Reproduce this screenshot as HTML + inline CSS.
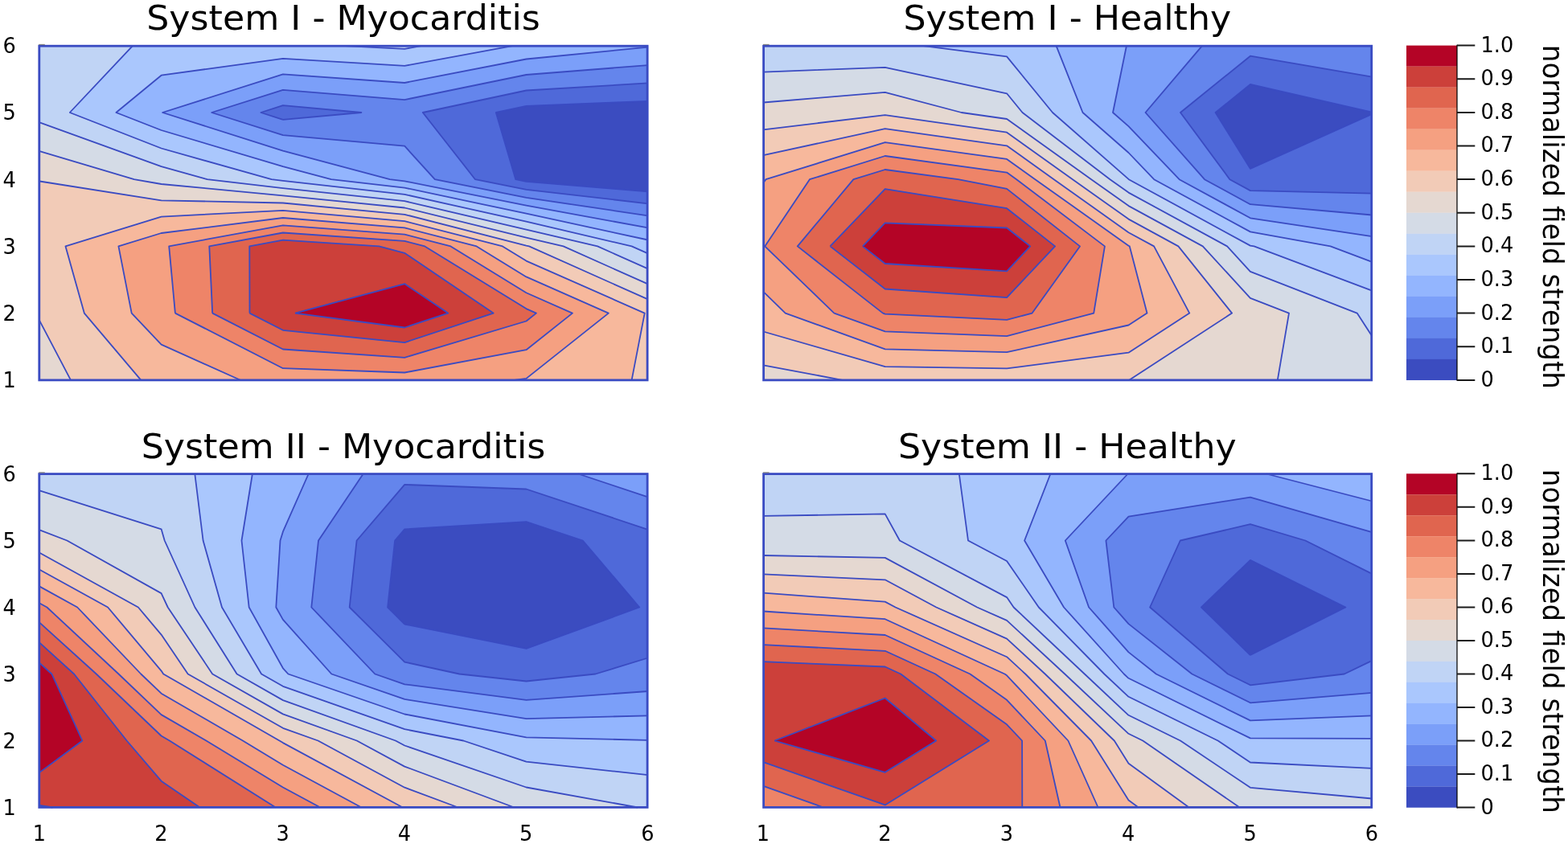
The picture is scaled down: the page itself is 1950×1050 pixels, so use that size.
<!DOCTYPE html>
<html lang="en"><head><meta charset="utf-8"><title>Normalized field strength contour maps</title>
<style>html,body{margin:0;padding:0;background:#fff}body{width:1950px;height:1050px;overflow:hidden}</style></head>
<body>
<svg width="1950" height="1050" viewBox="0 0 1950 1050" style="display:block">
<defs><filter id="soft" x="0" y="0" width="100%" height="100%" filterUnits="userSpaceOnUse" color-interpolation-filters="sRGB"><feGaussianBlur stdDeviation="0.45"/></filter></defs>
<rect width="1950" height="1050" fill="#fff"/>
<g filter="url(#soft)">
<rect width="1950" height="1050" fill="#fff"/>
<g>
<rect x="49.3" y="56.8" width="756.5" height="416" fill="#3b4cc0"/>
<path d="M641.3 223.2L654.5 225.8L805.8 238.3L805.8 223.2L805.8 140L805.8 125.8L654.5 131.9L616.8 140Z" fill="#3b4cc0" stroke="#3b4cc0" stroke-width="0.6" fill-rule="evenodd"/>
<path d="M591 223.2L654.5 235.8L805.8 253.3L805.8 238.3L654.5 225.8L641.3 223.2L616.8 140L654.5 131.9L805.8 125.8L805.8 103.4L654.5 112.5L525.8 140ZM324.4 140L351.9 148.8L449.4 140L351.9 131.2Z" fill="#4f69d9" stroke="#4f69d9" stroke-width="0.6" fill-rule="evenodd"/>
<path d="M540.8 223.2L654.5 245.8L805.8 268.4L805.8 253.3L654.5 235.8L591 223.2L525.8 140L654.5 112.5L805.8 103.4L805.8 81.1L654.5 93L503.2 124.1L351.9 111.8L263.2 140L351.9 168.2L503.2 181.7ZM351.9 148.8L324.4 140L351.9 131.2L449.4 140Z" fill="#6485ec" stroke="#6485ec" stroke-width="0.6" fill-rule="evenodd"/>
<path d="M484.8 223.2L503.2 225.3L654.5 255.7L805.8 283.4L805.8 268.4L654.5 245.8L540.8 223.2L503.2 181.7L351.9 168.2L263.2 140L351.9 111.8L503.2 124.1L654.5 93L805.8 81.1L805.8 58.7L654.5 73.5L503.2 103L351.9 92.3L202.1 140L351.9 187.7Z" fill="#7b9ff9" stroke="#7b9ff9" stroke-width="0.6" fill-rule="evenodd"/>
<path d="M411.9 223.2L503.2 233.6L654.5 265.7L805.8 298.5L805.8 283.4L654.5 255.7L503.2 225.3L484.8 223.2L351.9 187.7L202.1 140L351.9 92.3L503.2 103L654.5 73.5L805.8 58.7L805.8 56.8L654.5 56.8L638.5 56.8L503.2 81.9L351.9 72.8L200.6 93.7L144.4 140L200.6 162L351.9 207.2Z" fill="#93b5fe" stroke="#93b5fe" stroke-width="0.6" fill-rule="evenodd"/>
<path d="M785.6 306.4L805.8 315.4L805.8 306.4L805.8 298.5L654.5 265.7L503.2 233.6L411.9 223.2L351.9 207.2L200.6 162L144.4 140L200.6 93.7L351.9 72.8L503.2 81.9L638.5 56.8L525 56.8L503.2 60.9L424.3 56.8L351.9 56.8L200.6 56.8L165.1 56.8L86.8 140L200.6 184.5L337.7 223.2L351.9 224.8L503.2 241.9L654.5 275.7Z" fill="#aac7fd" stroke="#aac7fd" stroke-width="0.6" fill-rule="evenodd"/>
<path d="M743.1 306.4L805.8 334.4L805.8 315.4L785.6 306.4L654.5 275.7L503.2 241.9L351.9 224.8L337.7 223.2L200.6 184.5L86.8 140L165.1 56.8L49.3 56.8L49.3 140L49.3 152.4L200.6 207.1L257.8 223.2L351.9 234.1L503.2 250.2L654.5 285.6ZM424.3 56.8L503.2 60.9L525 56.8L503.2 56.8Z" fill="#c0d4f5" stroke="#c0d4f5" stroke-width="0.6" fill-rule="evenodd"/>
<path d="M700.6 306.4L805.8 353.4L805.8 334.4L743.1 306.4L654.5 285.6L503.2 250.2L351.9 234.1L257.8 223.2L200.6 207.1L49.3 152.4L49.3 188.1L166.8 223.2L200.6 229L351.9 243.3L503.2 258.5L654.5 295.6Z" fill="#d4dbe6" stroke="#d4dbe6" stroke-width="0.6" fill-rule="evenodd"/>
<path d="M49.3 472.8L88 472.8L49.3 399.2ZM658 306.4L805.8 372.4L805.8 353.4L700.6 306.4L654.5 295.6L503.2 258.5L351.9 243.3L200.6 229L166.8 223.2L49.3 188.1L49.3 223.2L49.3 225.5L200.6 249.3L351.9 252.5L503.2 266.8L654.5 305.6Z" fill="#e5d8d1" stroke="#e5d8d1" stroke-width="0.6" fill-rule="evenodd"/>
<path d="M88 472.8L175.3 472.8L104.8 389.6L81.5 306.4L200.6 269.6L351.9 261.8L503.2 275.1L625 306.4L654.5 324.6L801.7 389.6L785.6 472.8L805.8 472.8L805.8 389.6L805.8 372.4L658 306.4L654.5 305.6L503.2 266.8L351.9 252.5L200.6 249.3L49.3 225.5L49.3 306.4L49.3 389.6L49.3 399.2Z" fill="#f2cbb7" stroke="#f2cbb7" stroke-width="0.6" fill-rule="evenodd"/>
<path d="M175.3 472.8L200.6 472.8L298.8 472.8L200.6 428.6L163.7 389.6L147.4 306.4L200.6 290L351.9 271L503.2 283.4L592.7 306.4L654.5 344.4L756.8 389.6L654.5 470.9L639.8 472.8L654.5 472.8L785.6 472.8L801.7 389.6L654.5 324.6L625 306.4L503.2 275.1L351.9 261.8L200.6 269.6L81.5 306.4L104.8 389.6Z" fill="#f7b89c" stroke="#f7b89c" stroke-width="0.6" fill-rule="evenodd"/>
<path d="M163.7 389.6L200.6 428.6L298.8 472.8L351.9 472.8L503.2 472.8L639.8 472.8L654.5 470.9L756.8 389.6L654.5 344.4L592.7 306.4L503.2 283.4L351.9 271L200.6 290L147.4 306.4ZM351.9 458.2L217.9 389.6L210.2 306.4L351.9 280.3L503.2 291.6L560.5 306.4L654.5 364.3L711.9 389.6L654.5 435.2L503.2 463.5Z" fill="#f5a081" stroke="#f5a081" stroke-width="0.6" fill-rule="evenodd"/>
<path d="M217.9 389.6L351.9 458.2L503.2 463.5L654.5 435.2L711.9 389.6L654.5 364.3L560.5 306.4L503.2 291.6L351.9 280.3L210.2 306.4ZM351.9 434.5L264.2 389.6L260.3 306.4L351.9 289.5L503.2 299.9L528.3 306.4L654.5 384.1L666.9 389.6L654.5 399.5L503.2 444.8Z" fill="#ee8468" stroke="#ee8468" stroke-width="0.6" fill-rule="evenodd"/>
<path d="M264.2 389.6L351.9 434.5L503.2 444.8L654.5 399.5L666.9 389.6L654.5 384.1L528.3 306.4L503.2 299.9L351.9 289.5L260.3 306.4ZM351.9 410.8L310.5 389.6L310.3 306.4L351.9 298.7L471.4 306.4L503.2 314.8L613.6 389.6L503.2 426.1Z" fill="#e0654f" stroke="#e0654f" stroke-width="0.6" fill-rule="evenodd"/>
<path d="M310.5 389.6L351.9 410.8L503.2 426.1L613.6 389.6L503.2 314.8L471.4 306.4L351.9 298.7L310.3 306.4ZM503.2 407.5L367 389.6L503.2 353.1L557.2 389.6Z" fill="#cc403a" stroke="#cc403a" stroke-width="0.6" fill-rule="evenodd"/>
<path d="M367 389.6L503.2 407.5L557.2 389.6L503.2 353.1Z" fill="#b40426" stroke="#b40426" stroke-width="0.6" fill-rule="evenodd"/>
<path d="M805.8 238.3L654.5 225.8L641.3 223.2L616.8 140L654.5 131.9L805.8 125.8M805.8 253.3L654.5 235.8L591 223.2L525.8 140L654.5 112.5L805.8 103.4M351.9 148.8L324.4 140L351.9 131.2L449.4 140L351.9 148.8M805.8 268.4L654.5 245.8L540.8 223.2L503.2 181.7L351.9 168.2L263.2 140L351.9 111.8L503.2 124.1L654.5 93L805.8 81.1M805.8 283.4L654.5 255.7L503.2 225.3L484.8 223.2L351.9 187.7L202.1 140L351.9 92.3L503.2 103L654.5 73.5L805.8 58.7M805.8 298.5L654.5 265.7L503.2 233.6L411.9 223.2L351.9 207.2L200.6 162L144.4 140L200.6 93.7L351.9 72.8L503.2 81.9L638.5 56.8M805.8 315.4L785.6 306.4L654.5 275.7L503.2 241.9L351.9 224.8L337.7 223.2L200.6 184.5L86.8 140L165.1 56.8M424.3 56.8L503.2 60.9L525 56.8M805.8 334.4L743.1 306.4L654.5 285.6L503.2 250.2L351.9 234.1L257.8 223.2L200.6 207.1L49.3 152.4M805.8 353.4L700.6 306.4L654.5 295.6L503.2 258.5L351.9 243.3L200.6 229L166.8 223.2L49.3 188.1M49.3 399.2L88 472.8M805.8 372.4L658 306.4L654.5 305.6L503.2 266.8L351.9 252.5L200.6 249.3L49.3 225.5M785.6 472.8L801.7 389.6L654.5 324.6L625 306.4L503.2 275.1L351.9 261.8L200.6 269.6L81.5 306.4L104.8 389.6L175.3 472.8M639.8 472.8L654.5 470.9L756.8 389.6L654.5 344.4L592.7 306.4L503.2 283.4L351.9 271L200.6 290L147.4 306.4L163.7 389.6L200.6 428.6L298.8 472.8M217.9 389.6L351.9 458.2L503.2 463.5L654.5 435.2L711.9 389.6L654.5 364.3L560.5 306.4L503.2 291.6L351.9 280.3L210.2 306.4L217.9 389.6M264.2 389.6L351.9 434.5L503.2 444.8L654.5 399.5L666.9 389.6L654.5 384.1L528.3 306.4L503.2 299.9L351.9 289.5L260.3 306.4L264.2 389.6M310.5 389.6L351.9 410.8L503.2 426.1L613.6 389.6L503.2 314.8L471.4 306.4L351.9 298.7L310.3 306.4L310.5 389.6M367 389.6L503.2 407.5L557.2 389.6L503.2 353.1L367 389.6" fill="none" stroke="#3a4bc2" stroke-width="1.8" stroke-linejoin="round"/>
<rect x="48.8" y="57.2" width="756.3" height="415.7" fill="none" stroke="#3a4bc2" stroke-width="2.8"/>
<path d="M48.2 55.5h7.6" stroke="#6f6f6a" stroke-width="1.3" fill="none" stroke-opacity="0.8"/>
</g>
<text transform="translate(427.0 36.9) scale(1.022 1)" font-size="43.3" text-anchor="middle" font-family="'DejaVu Sans','Liberation Sans',sans-serif" fill="#000">System I - Myocarditis</text>
<text transform="translate(11.6 482.1) scale(0.985 1)" font-size="26.0" text-anchor="middle" font-family="'DejaVu Sans','Liberation Sans',sans-serif" fill="#000">1</text>
<text transform="translate(11.6 398.9) scale(0.985 1)" font-size="26.0" text-anchor="middle" font-family="'DejaVu Sans','Liberation Sans',sans-serif" fill="#000">2</text>
<text transform="translate(11.6 315.7) scale(0.985 1)" font-size="26.0" text-anchor="middle" font-family="'DejaVu Sans','Liberation Sans',sans-serif" fill="#000">3</text>
<text transform="translate(11.6 232.5) scale(0.985 1)" font-size="26.0" text-anchor="middle" font-family="'DejaVu Sans','Liberation Sans',sans-serif" fill="#000">4</text>
<text transform="translate(11.6 149.3) scale(0.985 1)" font-size="26.0" text-anchor="middle" font-family="'DejaVu Sans','Liberation Sans',sans-serif" fill="#000">5</text>
<text transform="translate(11.6 66.1) scale(0.985 1)" font-size="26.0" text-anchor="middle" font-family="'DejaVu Sans','Liberation Sans',sans-serif" fill="#000">6</text>
<g>
<rect x="949.3" y="56.8" width="757" height="416" fill="#3b4cc0"/>
<path d="M1511.6 140L1554.9 209.9L1706.3 141.9L1706.3 140L1706.3 139.6L1554.9 105Z" fill="#3b4cc0" stroke="#3b4cc0" stroke-width="0.6" fill-rule="evenodd"/>
<path d="M1529.4 223.2L1554.9 237.1L1706.3 240.7L1706.3 223.2L1706.3 141.9L1554.9 209.9L1511.6 140L1554.9 105L1706.3 139.6L1706.3 95.6L1554.9 69.7L1468 140Z" fill="#4f69d9" stroke="#4f69d9" stroke-width="0.6" fill-rule="evenodd"/>
<path d="M1498 223.2L1554.9 254.2L1706.3 267.5L1706.3 240.7L1554.9 237.1L1529.4 223.2L1468 140L1554.9 69.7L1706.3 95.6L1706.3 56.8L1554.9 56.8L1495.1 56.8L1424.5 140Z" fill="#6485ec" stroke="#6485ec" stroke-width="0.6" fill-rule="evenodd"/>
<path d="M1466.6 223.2L1554.9 271.3L1706.3 294.2L1706.3 267.5L1554.9 254.2L1498 223.2L1424.5 140L1495.1 56.8L1403.5 56.8L1401 56.8L1384 140L1403.5 157.1Z" fill="#7b9ff9" stroke="#7b9ff9" stroke-width="0.6" fill-rule="evenodd"/>
<path d="M1654.6 306.4L1706.3 325.9L1706.3 306.4L1706.3 294.2L1554.9 271.3L1466.6 223.2L1403.5 157.1L1384 140L1401 56.8L1313.5 56.8L1346.5 140L1403.5 190L1435.2 223.2L1554.9 288.4Z" fill="#93b5fe" stroke="#93b5fe" stroke-width="0.6" fill-rule="evenodd"/>
<path d="M1559.6 306.4L1706.3 361.7L1706.3 325.9L1654.6 306.4L1554.9 288.4L1435.2 223.2L1403.5 190L1346.5 140L1313.5 56.8L1252.1 56.8L1146.6 56.8L1252.1 70.4L1309 140L1403.5 222.9L1403.8 223.2L1554.9 305.6Z" fill="#aac7fd" stroke="#aac7fd" stroke-width="0.6" fill-rule="evenodd"/>
<path d="M1687.7 389.6L1706.3 418.2L1706.3 389.6L1706.3 361.7L1559.6 306.4L1554.9 305.6L1403.8 223.2L1403.5 222.9L1309 140L1252.1 70.4L1146.6 56.8L1100.7 56.8L949.3 56.8L949.3 89.6L1100.7 83.8L1252.1 116.3L1271.5 140L1380.5 223.2L1403.5 239.6L1526.1 306.4L1554.9 337.8Z" fill="#c0d4f5" stroke="#c0d4f5" stroke-width="0.6" fill-rule="evenodd"/>
<path d="M1588.8 472.8L1706.3 472.8L1706.3 418.2L1687.7 389.6L1554.9 337.8L1526.1 306.4L1403.5 239.6L1380.5 223.2L1271.5 140L1252.1 116.3L1100.7 83.8L949.3 89.6L949.3 127.5L1100.7 114.8L1195.7 140L1252.1 148L1357.2 223.2L1403.5 256.1L1495.8 306.4L1554.9 370.8L1603 389.6Z" fill="#d4dbe6" stroke="#d4dbe6" stroke-width="0.6" fill-rule="evenodd"/>
<path d="M949.3 472.8L1047.4 472.8L949.3 454.4ZM1404.4 472.8L1554.9 472.8L1588.8 472.8L1603 389.6L1554.9 370.8L1495.8 306.4L1403.5 256.1L1357.2 223.2L1252.1 148L1195.7 140L1100.7 114.8L949.3 127.5L949.3 140L949.3 161.3L1100.7 143.1L1252.1 164.7L1334 223.2L1403.5 272.6L1465.4 306.4L1532.1 389.6Z" fill="#e5d8d1" stroke="#e5d8d1" stroke-width="0.6" fill-rule="evenodd"/>
<path d="M1047.4 472.8L1100.7 472.8L1252.1 472.8L1403.5 472.8L1404.4 472.8L1532.1 389.6L1465.4 306.4L1403.5 272.6L1334 223.2L1252.1 164.7L1100.7 143.1L949.3 161.3L949.3 193.2L1100.7 160.1L1252.1 181.3L1310.7 223.2L1403.5 289.2L1435.1 306.4L1479.3 389.6L1403.5 438.7L1252.1 458.4L1100.7 456.2L949.3 412.5L949.3 454.4Z" fill="#f2cbb7" stroke="#f2cbb7" stroke-width="0.6" fill-rule="evenodd"/>
<path d="M949.3 389.6L949.3 412.5L1100.7 456.2L1252.1 458.4L1403.5 438.7L1479.3 389.6L1435.1 306.4L1403.5 289.2L1310.7 223.2L1252.1 181.3L1100.7 160.1L949.3 193.2L949.3 223.2L949.3 227.8L952.4 223.2L1100.7 177.1L1252.1 197.9L1287.4 223.2L1403.5 305.7L1404.8 306.4L1426.5 389.6L1403.5 404.5L1252.1 438.2L1100.7 434.3L976.7 389.6L949.3 362.8Z" fill="#f7b89c" stroke="#f7b89c" stroke-width="0.6" fill-rule="evenodd"/>
<path d="M976.7 389.6L1100.7 434.3L1252.1 438.2L1403.5 404.5L1426.5 389.6L1404.8 306.4L1403.5 305.7L1287.4 223.2L1252.1 197.9L1100.7 177.1L952.4 223.2L949.3 227.8L949.3 306.4L949.3 362.8ZM1100.7 412.4L1037.4 389.6L951.2 306.4L1006.9 223.2L1100.7 194L1252.1 214.6L1264.2 223.2L1373.9 306.4L1360.2 389.6L1252.1 418.1Z" fill="#f5a081" stroke="#f5a081" stroke-width="0.6" fill-rule="evenodd"/>
<path d="M1037.4 389.6L1100.7 412.4L1252.1 418.1L1360.2 389.6L1373.9 306.4L1264.2 223.2L1252.1 214.6L1100.7 194L1006.9 223.2L951.2 306.4ZM1100.7 390.6L1098 389.6L991.8 306.4L1061.4 223.2L1100.7 211L1191.5 223.2L1252.1 234.9L1343 306.4L1283.6 389.6L1252.1 397.9Z" fill="#ee8468" stroke="#ee8468" stroke-width="0.6" fill-rule="evenodd"/>
<path d="M1098 389.6L1100.7 390.6L1252.1 397.9L1283.6 389.6L1343 306.4L1252.1 234.9L1191.5 223.2L1100.7 211L1061.4 223.2L991.8 306.4ZM1100.7 359.5L1032.4 306.4L1100.7 235.1L1252.1 259.2L1312.1 306.4L1252.1 370.2Z" fill="#e0654f" stroke="#e0654f" stroke-width="0.6" fill-rule="evenodd"/>
<path d="M1032.4 306.4L1100.7 359.5L1252.1 370.2L1312.1 306.4L1252.1 259.2L1100.7 235.1ZM1100.7 328L1072.9 306.4L1100.7 277.4L1252.1 283.5L1281.2 306.4L1252.1 337.3Z" fill="#cc403a" stroke="#cc403a" stroke-width="0.6" fill-rule="evenodd"/>
<path d="M1072.9 306.4L1100.7 328L1252.1 337.3L1281.2 306.4L1252.1 283.5L1100.7 277.4Z" fill="#b40426" stroke="#b40426" stroke-width="0.6" fill-rule="evenodd"/>
<path d="M1706.3 141.9L1554.9 209.9L1511.6 140L1554.9 105L1706.3 139.6M1706.3 240.7L1554.9 237.1L1529.4 223.2L1468 140L1554.9 69.7L1706.3 95.6M1706.3 267.5L1554.9 254.2L1498 223.2L1424.5 140L1495.1 56.8M1706.3 294.2L1554.9 271.3L1466.6 223.2L1403.5 157.1L1384 140L1401 56.8M1706.3 325.9L1654.6 306.4L1554.9 288.4L1435.2 223.2L1403.5 190L1346.5 140L1313.5 56.8M1706.3 361.7L1559.6 306.4L1554.9 305.6L1403.8 223.2L1403.5 222.9L1309 140L1252.1 70.4L1146.6 56.8M1706.3 418.2L1687.7 389.6L1554.9 337.8L1526.1 306.4L1403.5 239.6L1380.5 223.2L1271.5 140L1252.1 116.3L1100.7 83.8L949.3 89.6M1588.8 472.8L1603 389.6L1554.9 370.8L1495.8 306.4L1403.5 256.1L1357.2 223.2L1252.1 148L1195.7 140L1100.7 114.8L949.3 127.5M949.3 454.4L1047.4 472.8M1404.4 472.8L1532.1 389.6L1465.4 306.4L1403.5 272.6L1334 223.2L1252.1 164.7L1100.7 143.1L949.3 161.3M949.3 412.5L1100.7 456.2L1252.1 458.4L1403.5 438.7L1479.3 389.6L1435.1 306.4L1403.5 289.2L1310.7 223.2L1252.1 181.3L1100.7 160.1L949.3 193.2M949.3 362.8L976.7 389.6L1100.7 434.3L1252.1 438.2L1403.5 404.5L1426.5 389.6L1404.8 306.4L1403.5 305.7L1287.4 223.2L1252.1 197.9L1100.7 177.1L952.4 223.2L949.3 227.8M1037.4 389.6L1100.7 412.4L1252.1 418.1L1360.2 389.6L1373.9 306.4L1264.2 223.2L1252.1 214.6L1100.7 194L1006.9 223.2L951.2 306.4L1037.4 389.6M1098 389.6L1100.7 390.6L1252.1 397.9L1283.6 389.6L1343 306.4L1252.1 234.9L1191.5 223.2L1100.7 211L1061.4 223.2L991.8 306.4L1098 389.6M1032.4 306.4L1100.7 359.5L1252.1 370.2L1312.1 306.4L1252.1 259.2L1100.7 235.1L1032.4 306.4M1072.9 306.4L1100.7 328L1252.1 337.3L1281.2 306.4L1252.1 283.5L1100.7 277.4L1072.9 306.4" fill="none" stroke="#3a4bc2" stroke-width="1.8" stroke-linejoin="round"/>
<rect x="949.6" y="57.2" width="756.1" height="415.7" fill="none" stroke="#3a4bc2" stroke-width="2.8"/>
<path d="M949 55.5h7.6" stroke="#6f6f6a" stroke-width="1.3" fill="none" stroke-opacity="0.8"/>
</g>
<text transform="translate(1327.3 36.9) scale(1.022 1)" font-size="43.3" text-anchor="middle" font-family="'DejaVu Sans','Liberation Sans',sans-serif" fill="#000">System I - Healthy</text>
<g>
<rect x="49.3" y="589.5" width="756.5" height="415" fill="#3b4cc0"/>
<path d="M482.1 755.5L503.2 776.5L654.5 806.9L795.2 755.5L724.8 672.5L654.5 649.2L503.2 658.4L491.1 672.5Z" fill="#3b4cc0" stroke="#3b4cc0" stroke-width="0.6" fill-rule="evenodd"/>
<path d="M571.3 838.5L654.5 847.5L740.5 838.5L805.8 818.5L805.8 755.5L805.8 672.5L805.8 658.8L654.5 608.5L503.2 602.9L443.6 672.5L434.7 755.5L503.2 823.6ZM503.2 776.5L482.1 755.5L491.1 672.5L503.2 658.4L654.5 649.2L724.8 672.5L795.2 755.5L654.5 806.9Z" fill="#4f69d9" stroke="#4f69d9" stroke-width="0.6" fill-rule="evenodd"/>
<path d="M466.3 838.5L503.2 851.3L654.5 870.8L805.8 860L805.8 838.5L805.8 818.5L740.5 838.5L654.5 847.5L571.3 838.5L503.2 823.6L434.7 755.5L443.6 672.5L503.2 602.9L654.5 608.5L805.8 658.8L805.8 618.4L719.1 589.5L654.5 589.5L503.2 589.5L451.7 589.5L396 672.5L387.3 755.5Z" fill="#6485ec" stroke="#6485ec" stroke-width="0.6" fill-rule="evenodd"/>
<path d="M412.3 838.5L503.2 869.9L654.5 894.1L805.8 890.4L805.8 860L654.5 870.8L503.2 851.3L466.3 838.5L387.3 755.5L396 672.5L451.7 589.5L383.7 589.5L351.9 661.4L348.5 672.5L343.3 755.5L351.9 770.9ZM719.1 589.5L805.8 618.4L805.8 589.5Z" fill="#7b9ff9" stroke="#7b9ff9" stroke-width="0.6" fill-rule="evenodd"/>
<path d="M358.4 838.5L503.2 888.5L654.5 917.4L805.8 920.8L805.8 890.4L654.5 894.1L503.2 869.9L412.3 838.5L351.9 770.9L343.3 755.5L348.5 672.5L351.9 661.4L383.7 589.5L351.9 589.5L313.9 589.5L300.5 672.5L309.7 755.5L351.9 831.3Z" fill="#93b5fe" stroke="#93b5fe" stroke-width="0.6" fill-rule="evenodd"/>
<path d="M576.3 921.5L654.5 947.7L805.8 964.1L805.8 921.5L805.8 920.8L654.5 917.4L503.2 888.5L358.4 838.5L351.9 831.3L309.7 755.5L300.5 672.5L313.9 589.5L242.3 589.5L252.6 672.5L276 755.5L325.1 838.5L351.9 853.8L503.2 907.2Z" fill="#aac7fd" stroke="#aac7fd" stroke-width="0.6" fill-rule="evenodd"/>
<path d="M492 921.5L503.2 927.5L654.5 979.5L793.1 1004.5L805.8 1004.5L805.8 964.1L654.5 947.7L576.3 921.5L503.2 907.2L351.9 853.8L325.1 838.5L276 755.5L252.6 672.5L242.3 589.5L200.6 589.5L49.3 589.5L49.3 610.3L200.6 658.3L204.7 672.5L242.4 755.5L294.6 838.5L351.9 871.1Z" fill="#c0d4f5" stroke="#c0d4f5" stroke-width="0.6" fill-rule="evenodd"/>
<path d="M443.8 921.5L503.2 953.6L639.5 1004.5L654.5 1004.5L793.1 1004.5L654.5 979.5L503.2 927.5L492 921.5L351.9 871.1L294.6 838.5L242.4 755.5L204.7 672.5L200.6 658.3L49.3 610.3L49.3 659.4L83.4 672.5L200.6 738.1L208.7 755.5L264.2 838.5L351.9 888.4Z" fill="#d4dbe6" stroke="#d4dbe6" stroke-width="0.6" fill-rule="evenodd"/>
<path d="M395.6 921.5L503.2 979.7L569.7 1004.5L639.5 1004.5L503.2 953.6L443.8 921.5L351.9 888.4L264.2 838.5L208.7 755.5L200.6 738.1L83.4 672.5L49.3 659.4L49.3 672.5L49.3 687.8L171.9 755.5L200.6 789.6L233.7 838.5L351.9 905.8Z" fill="#e5d8d1" stroke="#e5d8d1" stroke-width="0.6" fill-rule="evenodd"/>
<path d="M347.6 921.5L351.9 924.1L500.8 1004.5L503.2 1004.5L569.7 1004.5L503.2 979.7L395.6 921.5L351.9 905.8L233.7 838.5L200.6 789.6L171.9 755.5L49.3 687.8L49.3 708.7L134.1 755.5L200.6 834.6L203.2 838.5Z" fill="#f2cbb7" stroke="#f2cbb7" stroke-width="0.6" fill-rule="evenodd"/>
<path d="M302 921.5L351.9 951.8L449.5 1004.5L500.8 1004.5L351.9 924.1L347.6 921.5L203.2 838.5L200.6 834.6L134.1 755.5L49.3 708.7L49.3 729.6L96.2 755.5L175.3 838.5L200.6 862.7Z" fill="#f7b89c" stroke="#f7b89c" stroke-width="0.6" fill-rule="evenodd"/>
<path d="M256.5 921.5L351.9 979.5L398.3 1004.5L449.5 1004.5L351.9 951.8L302 921.5L200.6 862.7L175.3 838.5L96.2 755.5L49.3 729.6L49.3 750.5L58.4 755.5L147.5 838.5L200.6 889.1Z" fill="#f5a081" stroke="#f5a081" stroke-width="0.6" fill-rule="evenodd"/>
<path d="M342.8 1004.5L351.9 1004.5L398.3 1004.5L351.9 979.5L256.5 921.5L200.6 889.1L147.5 838.5L58.4 755.5L49.3 750.5L49.3 755.5L49.3 774.6L119.8 838.5L200.6 915.5L210.9 921.5Z" fill="#ee8468" stroke="#ee8468" stroke-width="0.6" fill-rule="evenodd"/>
<path d="M49.3 1004.5L65.5 1004.5L49.3 1002ZM157.7 921.5L200.6 971.7L248.5 1004.5L342.8 1004.5L210.9 921.5L200.6 915.5L119.8 838.5L49.3 774.6L49.3 799.7L92.1 838.5Z" fill="#e0654f" stroke="#e0654f" stroke-width="0.6" fill-rule="evenodd"/>
<path d="M65.5 1004.5L200.6 1004.5L248.5 1004.5L200.6 971.7L157.7 921.5L92.1 838.5L49.3 799.7L49.3 824.8L64.4 838.5L102.4 921.5L49.3 960.9L49.3 1002Z" fill="#cc403a" stroke="#cc403a" stroke-width="0.6" fill-rule="evenodd"/>
<path d="M49.3 921.5L49.3 960.9L102.4 921.5L64.4 838.5L49.3 824.8L49.3 838.5Z" fill="#b40426" stroke="#b40426" stroke-width="0.6" fill-rule="evenodd"/>
<path d="M503.2 776.5L482.1 755.5L491.1 672.5L503.2 658.4L654.5 649.2L724.8 672.5L795.2 755.5L654.5 806.9L503.2 776.5M805.8 818.5L740.5 838.5L654.5 847.5L571.3 838.5L503.2 823.6L434.7 755.5L443.6 672.5L503.2 602.9L654.5 608.5L805.8 658.8M805.8 860L654.5 870.8L503.2 851.3L466.3 838.5L387.3 755.5L396 672.5L451.7 589.5M719.1 589.5L805.8 618.4M805.8 890.4L654.5 894.1L503.2 869.9L412.3 838.5L351.9 770.9L343.3 755.5L348.5 672.5L351.9 661.4L383.7 589.5M805.8 920.8L654.5 917.4L503.2 888.5L358.4 838.5L351.9 831.3L309.7 755.5L300.5 672.5L313.9 589.5M805.8 964.1L654.5 947.7L576.3 921.5L503.2 907.2L351.9 853.8L325.1 838.5L276 755.5L252.6 672.5L242.3 589.5M793.1 1004.5L654.5 979.5L503.2 927.5L492 921.5L351.9 871.1L294.6 838.5L242.4 755.5L204.7 672.5L200.6 658.3L49.3 610.3M639.5 1004.5L503.2 953.6L443.8 921.5L351.9 888.4L264.2 838.5L208.7 755.5L200.6 738.1L83.4 672.5L49.3 659.4M569.7 1004.5L503.2 979.7L395.6 921.5L351.9 905.8L233.7 838.5L200.6 789.6L171.9 755.5L49.3 687.8M500.8 1004.5L351.9 924.1L347.6 921.5L203.2 838.5L200.6 834.6L134.1 755.5L49.3 708.7M449.5 1004.5L351.9 951.8L302 921.5L200.6 862.7L175.3 838.5L96.2 755.5L49.3 729.6M398.3 1004.5L351.9 979.5L256.5 921.5L200.6 889.1L147.5 838.5L58.4 755.5L49.3 750.5M342.8 1004.5L210.9 921.5L200.6 915.5L119.8 838.5L49.3 774.6M49.3 1002L65.5 1004.5M248.5 1004.5L200.6 971.7L157.7 921.5L92.1 838.5L49.3 799.7M49.3 960.9L102.4 921.5L64.4 838.5L49.3 824.8" fill="none" stroke="#3a4bc2" stroke-width="1.8" stroke-linejoin="round"/>
<rect x="48.8" y="589.6" width="756.3" height="414.8" fill="none" stroke="#3a4bc2" stroke-width="2.8"/>
<path d="M48.2 587.9h7.6" stroke="#6f6f6a" stroke-width="1.3" fill="none" stroke-opacity="0.8"/>
</g>
<text transform="translate(427.0 569.6) scale(1.022 1)" font-size="43.3" text-anchor="middle" font-family="'DejaVu Sans','Liberation Sans',sans-serif" fill="#000">System II - Myocarditis</text>
<text transform="translate(11.6 1013.8) scale(0.985 1)" font-size="26.0" text-anchor="middle" font-family="'DejaVu Sans','Liberation Sans',sans-serif" fill="#000">1</text>
<text transform="translate(11.6 930.8) scale(0.985 1)" font-size="26.0" text-anchor="middle" font-family="'DejaVu Sans','Liberation Sans',sans-serif" fill="#000">2</text>
<text transform="translate(11.6 847.8) scale(0.985 1)" font-size="26.0" text-anchor="middle" font-family="'DejaVu Sans','Liberation Sans',sans-serif" fill="#000">3</text>
<text transform="translate(11.6 764.8) scale(0.985 1)" font-size="26.0" text-anchor="middle" font-family="'DejaVu Sans','Liberation Sans',sans-serif" fill="#000">4</text>
<text transform="translate(11.6 681.8) scale(0.985 1)" font-size="26.0" text-anchor="middle" font-family="'DejaVu Sans','Liberation Sans',sans-serif" fill="#000">5</text>
<text transform="translate(11.6 598.8) scale(0.985 1)" font-size="26.0" text-anchor="middle" font-family="'DejaVu Sans','Liberation Sans',sans-serif" fill="#000">6</text>
<text transform="translate(49.0 1045.9) scale(0.985 1)" font-size="26.0" text-anchor="middle" font-family="'DejaVu Sans','Liberation Sans',sans-serif" fill="#000">1</text>
<text transform="translate(200.3 1045.9) scale(0.985 1)" font-size="26.0" text-anchor="middle" font-family="'DejaVu Sans','Liberation Sans',sans-serif" fill="#000">2</text>
<text transform="translate(351.6 1045.9) scale(0.985 1)" font-size="26.0" text-anchor="middle" font-family="'DejaVu Sans','Liberation Sans',sans-serif" fill="#000">3</text>
<text transform="translate(502.9 1045.9) scale(0.985 1)" font-size="26.0" text-anchor="middle" font-family="'DejaVu Sans','Liberation Sans',sans-serif" fill="#000">4</text>
<text transform="translate(654.2 1045.9) scale(0.985 1)" font-size="26.0" text-anchor="middle" font-family="'DejaVu Sans','Liberation Sans',sans-serif" fill="#000">5</text>
<text transform="translate(805.5 1045.9) scale(0.985 1)" font-size="26.0" text-anchor="middle" font-family="'DejaVu Sans','Liberation Sans',sans-serif" fill="#000">6</text>
<g>
<rect x="949.3" y="589.5" width="757" height="415" fill="#3b4cc0"/>
<path d="M1494 755.5L1554.9 815L1673.4 755.5L1554.9 696.9Z" fill="#3b4cc0" stroke="#3b4cc0" stroke-width="0.6" fill-rule="evenodd"/>
<path d="M1527 838.5L1554.9 852.3L1671.8 838.5L1706.3 821.9L1706.3 755.5L1706.3 713.9L1623.3 672.5L1554.9 652.2L1467.8 672.5L1430.1 755.5ZM1554.9 815L1494 755.5L1554.9 696.9L1673.4 755.5Z" fill="#4f69d9" stroke="#4f69d9" stroke-width="0.6" fill-rule="evenodd"/>
<path d="M1482.4 838.5L1554.9 874.3L1706.3 861.8L1706.3 838.5L1706.3 821.9L1671.8 838.5L1554.9 852.3L1527 838.5L1430.1 755.5L1467.8 672.5L1554.9 652.2L1623.3 672.5L1706.3 713.9L1706.3 672.5L1706.3 662.1L1554.9 618.6L1403.5 642.7L1375.4 672.5L1385.3 755.5L1403.5 776.1Z" fill="#6485ec" stroke="#6485ec" stroke-width="0.6" fill-rule="evenodd"/>
<path d="M1437.8 838.5L1554.9 896.4L1706.3 890.4L1706.3 861.8L1554.9 874.3L1482.4 838.5L1403.5 776.1L1385.3 755.5L1375.4 672.5L1403.5 642.7L1554.9 618.6L1706.3 662.1L1706.3 623.5L1574.9 589.5L1554.9 589.5L1403.5 589.5L1402.6 589.5L1324.8 672.5L1354.1 755.5L1403.5 811.4Z" fill="#7b9ff9" stroke="#7b9ff9" stroke-width="0.6" fill-rule="evenodd"/>
<path d="M1397.8 838.5L1403.5 843.8L1554.9 918.4L1706.3 918.9L1706.3 890.4L1554.9 896.4L1437.8 838.5L1403.5 811.4L1354.1 755.5L1324.8 672.5L1402.6 589.5L1306.4 589.5L1274.1 672.5L1323 755.5ZM1574.9 589.5L1706.3 623.5L1706.3 589.5Z" fill="#93b5fe" stroke="#93b5fe" stroke-width="0.6" fill-rule="evenodd"/>
<path d="M1514.7 921.5L1554.9 948.5L1706.3 955.8L1706.3 921.5L1706.3 918.9L1554.9 918.4L1403.5 843.8L1397.8 838.5L1323 755.5L1274.1 672.5L1306.4 589.5L1252.1 589.5L1192.8 589.5L1204 672.5L1252.1 698L1291.8 755.5L1373.3 838.5L1403.5 866.8Z" fill="#aac7fd" stroke="#aac7fd" stroke-width="0.6" fill-rule="evenodd"/>
<path d="M1468 921.5L1554.9 979.8L1706.3 993.5L1706.3 955.8L1554.9 948.5L1514.7 921.5L1403.5 866.8L1373.3 838.5L1291.8 755.5L1252.1 698L1204 672.5L1192.8 589.5L1100.7 589.5L949.3 589.5L949.3 641.9L1100.7 639.4L1118.9 672.5L1252.1 743.1L1260.6 755.5L1348.8 838.5L1403.5 889.8Z" fill="#c0d4f5" stroke="#c0d4f5" stroke-width="0.6" fill-rule="evenodd"/>
<path d="M1541.6 1004.5L1554.9 1004.5L1706.3 1004.5L1706.3 993.5L1554.9 979.8L1468 921.5L1403.5 889.8L1348.8 838.5L1260.6 755.5L1252.1 743.1L1118.9 672.5L1100.7 639.4L949.3 641.9L949.3 672.5L949.3 691L1100.7 693.9L1215.2 755.5L1252.1 771.9L1324.2 838.5L1403.5 912.8L1421.3 921.5Z" fill="#d4dbe6" stroke="#d4dbe6" stroke-width="0.6" fill-rule="evenodd"/>
<path d="M1385.8 921.5L1403.5 949.8L1478.7 1004.5L1541.6 1004.5L1421.3 921.5L1403.5 912.8L1324.2 838.5L1252.1 771.9L1215.2 755.5L1100.7 693.9L949.3 691L949.3 714.4L1100.7 721.3L1164.4 755.5L1252.1 794.6L1299.7 838.5Z" fill="#e5d8d1" stroke="#e5d8d1" stroke-width="0.6" fill-rule="evenodd"/>
<path d="M1357.1 921.5L1403.5 995.6L1415.8 1004.5L1478.7 1004.5L1403.5 949.8L1385.8 921.5L1299.7 838.5L1252.1 794.6L1164.4 755.5L1100.7 721.3L949.3 714.4L949.3 737.7L1100.7 748.6L1113.6 755.5L1252.1 817.2L1275.2 838.5Z" fill="#f2cbb7" stroke="#f2cbb7" stroke-width="0.6" fill-rule="evenodd"/>
<path d="M1365.6 1004.5L1403.5 1004.5L1415.8 1004.5L1403.5 995.6L1357.1 921.5L1275.2 838.5L1252.1 817.2L1113.6 755.5L1100.7 748.6L949.3 737.7L949.3 755.5L949.3 760.5L1100.7 770.2L1249.5 838.5L1252.1 840.3L1328.4 921.5Z" fill="#f7b89c" stroke="#f7b89c" stroke-width="0.6" fill-rule="evenodd"/>
<path d="M1318.5 1004.5L1365.6 1004.5L1328.4 921.5L1252.1 840.3L1249.5 838.5L1100.7 770.2L949.3 760.5L949.3 781.4L1100.7 790L1206.4 838.5L1252.1 870.8L1299.8 921.5Z" fill="#f5a081" stroke="#f5a081" stroke-width="0.6" fill-rule="evenodd"/>
<path d="M949.3 1004.5L1024.1 1004.5L949.3 977.8ZM1271.3 1004.5L1318.5 1004.5L1299.8 921.5L1252.1 870.8L1206.4 838.5L1100.7 790L949.3 781.4L949.3 802.2L1100.7 809.8L1163.3 838.5L1252.1 901.3L1271.1 921.5Z" fill="#ee8468" stroke="#ee8468" stroke-width="0.6" fill-rule="evenodd"/>
<path d="M1024.1 1004.5L1100.7 1004.5L1252.1 1004.5L1271.3 1004.5L1271.1 921.5L1252.1 901.3L1163.3 838.5L1100.7 809.8L949.3 802.2L949.3 823.1L1100.7 829.5L1120.2 838.5L1230 921.5L1100.7 1001.4L949.3 948.2L949.3 977.8Z" fill="#e0654f" stroke="#e0654f" stroke-width="0.6" fill-rule="evenodd"/>
<path d="M949.3 921.5L949.3 948.2L1100.7 1001.4L1230 921.5L1120.2 838.5L1100.7 829.5L949.3 823.1L949.3 838.5ZM1100.7 960.8L963.2 921.5L1100.7 868.5L1164.2 921.5Z" fill="#cc403a" stroke="#cc403a" stroke-width="0.6" fill-rule="evenodd"/>
<path d="M963.2 921.5L1100.7 960.8L1164.2 921.5L1100.7 868.5Z" fill="#b40426" stroke="#b40426" stroke-width="0.6" fill-rule="evenodd"/>
<path d="M1554.9 815L1494 755.5L1554.9 696.9L1673.4 755.5L1554.9 815M1706.3 821.9L1671.8 838.5L1554.9 852.3L1527 838.5L1430.1 755.5L1467.8 672.5L1554.9 652.2L1623.3 672.5L1706.3 713.9M1706.3 861.8L1554.9 874.3L1482.4 838.5L1403.5 776.1L1385.3 755.5L1375.4 672.5L1403.5 642.7L1554.9 618.6L1706.3 662.1M1706.3 890.4L1554.9 896.4L1437.8 838.5L1403.5 811.4L1354.1 755.5L1324.8 672.5L1402.6 589.5M1574.9 589.5L1706.3 623.5M1706.3 918.9L1554.9 918.4L1403.5 843.8L1397.8 838.5L1323 755.5L1274.1 672.5L1306.4 589.5M1706.3 955.8L1554.9 948.5L1514.7 921.5L1403.5 866.8L1373.3 838.5L1291.8 755.5L1252.1 698L1204 672.5L1192.8 589.5M1706.3 993.5L1554.9 979.8L1468 921.5L1403.5 889.8L1348.8 838.5L1260.6 755.5L1252.1 743.1L1118.9 672.5L1100.7 639.4L949.3 641.9M1541.6 1004.5L1421.3 921.5L1403.5 912.8L1324.2 838.5L1252.1 771.9L1215.2 755.5L1100.7 693.9L949.3 691M1478.7 1004.5L1403.5 949.8L1385.8 921.5L1299.7 838.5L1252.1 794.6L1164.4 755.5L1100.7 721.3L949.3 714.4M1415.8 1004.5L1403.5 995.6L1357.1 921.5L1275.2 838.5L1252.1 817.2L1113.6 755.5L1100.7 748.6L949.3 737.7M1365.6 1004.5L1328.4 921.5L1252.1 840.3L1249.5 838.5L1100.7 770.2L949.3 760.5M1318.5 1004.5L1299.8 921.5L1252.1 870.8L1206.4 838.5L1100.7 790L949.3 781.4M949.3 977.8L1024.1 1004.5M1271.3 1004.5L1271.1 921.5L1252.1 901.3L1163.3 838.5L1100.7 809.8L949.3 802.2M949.3 948.2L1100.7 1001.4L1230 921.5L1120.2 838.5L1100.7 829.5L949.3 823.1M963.2 921.5L1100.7 960.8L1164.2 921.5L1100.7 868.5L963.2 921.5" fill="none" stroke="#3a4bc2" stroke-width="1.8" stroke-linejoin="round"/>
<rect x="949.6" y="589.6" width="756.1" height="414.8" fill="none" stroke="#3a4bc2" stroke-width="2.8"/>
<path d="M949 587.9h7.6" stroke="#6f6f6a" stroke-width="1.3" fill="none" stroke-opacity="0.8"/>
</g>
<text transform="translate(1327.3 569.6) scale(1.022 1)" font-size="43.3" text-anchor="middle" font-family="'DejaVu Sans','Liberation Sans',sans-serif" fill="#000">System II - Healthy</text>
<text transform="translate(949.0 1045.9) scale(0.985 1)" font-size="26.0" text-anchor="middle" font-family="'DejaVu Sans','Liberation Sans',sans-serif" fill="#000">1</text>
<text transform="translate(1100.4 1045.9) scale(0.985 1)" font-size="26.0" text-anchor="middle" font-family="'DejaVu Sans','Liberation Sans',sans-serif" fill="#000">2</text>
<text transform="translate(1251.8 1045.9) scale(0.985 1)" font-size="26.0" text-anchor="middle" font-family="'DejaVu Sans','Liberation Sans',sans-serif" fill="#000">3</text>
<text transform="translate(1403.2 1045.9) scale(0.985 1)" font-size="26.0" text-anchor="middle" font-family="'DejaVu Sans','Liberation Sans',sans-serif" fill="#000">4</text>
<text transform="translate(1554.6 1045.9) scale(0.985 1)" font-size="26.0" text-anchor="middle" font-family="'DejaVu Sans','Liberation Sans',sans-serif" fill="#000">5</text>
<text transform="translate(1706.0 1045.9) scale(0.985 1)" font-size="26.0" text-anchor="middle" font-family="'DejaVu Sans','Liberation Sans',sans-serif" fill="#000">6</text>
<g>
<rect x="1749" y="56.60" width="63" height="26.14" fill="#b40426"/>
<rect x="1749" y="82.62" width="63" height="26.14" fill="#cc403a"/>
<rect x="1749" y="108.64" width="63" height="26.14" fill="#e0654f"/>
<rect x="1749" y="134.66" width="63" height="26.14" fill="#ee8468"/>
<rect x="1749" y="160.68" width="63" height="26.14" fill="#f5a081"/>
<rect x="1749" y="186.69" width="63" height="26.14" fill="#f7b89c"/>
<rect x="1749" y="212.71" width="63" height="26.14" fill="#f2cbb7"/>
<rect x="1749" y="238.73" width="63" height="26.14" fill="#e5d8d1"/>
<rect x="1749" y="264.75" width="63" height="26.14" fill="#d4dbe6"/>
<rect x="1749" y="290.77" width="63" height="26.14" fill="#c0d4f5"/>
<rect x="1749" y="316.79" width="63" height="26.14" fill="#aac7fd"/>
<rect x="1749" y="342.81" width="63" height="26.14" fill="#93b5fe"/>
<rect x="1749" y="368.82" width="63" height="26.14" fill="#7b9ff9"/>
<rect x="1749" y="394.84" width="63" height="26.14" fill="#6485ec"/>
<rect x="1749" y="420.86" width="63" height="26.14" fill="#4f69d9"/>
<rect x="1749" y="446.88" width="63" height="26.14" fill="#3b4cc0"/>
</g>
<path d="M1812 55.8V473.7" stroke="#000" stroke-width="2" fill="none" stroke-opacity="0.62"/>
<text transform="translate(1841.5 480.8) scale(0.985 1)" font-size="26.0" text-anchor="start" font-family="'DejaVu Sans','Liberation Sans',sans-serif" fill="#000">0</text>
<text transform="translate(1841.5 439.2) scale(0.985 1)" font-size="26.0" text-anchor="start" font-family="'DejaVu Sans','Liberation Sans',sans-serif" fill="#000">0.1</text>
<text transform="translate(1841.5 397.5) scale(0.985 1)" font-size="26.0" text-anchor="start" font-family="'DejaVu Sans','Liberation Sans',sans-serif" fill="#000">0.2</text>
<text transform="translate(1841.5 355.9) scale(0.985 1)" font-size="26.0" text-anchor="start" font-family="'DejaVu Sans','Liberation Sans',sans-serif" fill="#000">0.3</text>
<text transform="translate(1841.5 314.3) scale(0.985 1)" font-size="26.0" text-anchor="start" font-family="'DejaVu Sans','Liberation Sans',sans-serif" fill="#000">0.4</text>
<text transform="translate(1841.5 272.6) scale(0.985 1)" font-size="26.0" text-anchor="start" font-family="'DejaVu Sans','Liberation Sans',sans-serif" fill="#000">0.5</text>
<text transform="translate(1841.5 231.0) scale(0.985 1)" font-size="26.0" text-anchor="start" font-family="'DejaVu Sans','Liberation Sans',sans-serif" fill="#000">0.6</text>
<text transform="translate(1841.5 189.4) scale(0.985 1)" font-size="26.0" text-anchor="start" font-family="'DejaVu Sans','Liberation Sans',sans-serif" fill="#000">0.7</text>
<text transform="translate(1841.5 147.8) scale(0.985 1)" font-size="26.0" text-anchor="start" font-family="'DejaVu Sans','Liberation Sans',sans-serif" fill="#000">0.8</text>
<text transform="translate(1841.5 106.1) scale(0.985 1)" font-size="26.0" text-anchor="start" font-family="'DejaVu Sans','Liberation Sans',sans-serif" fill="#000">0.9</text>
<text transform="translate(1841.5 64.5) scale(0.985 1)" font-size="26.0" text-anchor="start" font-family="'DejaVu Sans','Liberation Sans',sans-serif" fill="#000">1.0</text>
<path d="M1812 472.9H1834.3M1812 431.3H1834.3M1812 389.6H1834.3M1812 348H1834.3M1812 306.4H1834.3M1812 264.8H1834.3M1812 223.1H1834.3M1812 181.5H1834.3M1812 139.9H1834.3M1812 98.2H1834.3M1812 56.6H1834.3" stroke="#1a1a1a" stroke-width="2" fill="none"/>
<text transform="translate(1919.0 269.9) rotate(90) scale(1 1.04)" font-size="34.1" text-anchor="middle" font-family="'DejaVu Sans','Liberation Sans',sans-serif" fill="#000">normalized field strength</text>
<g>
<rect x="1749" y="589.30" width="63" height="26.08" fill="#b40426"/>
<rect x="1749" y="615.26" width="63" height="26.08" fill="#cc403a"/>
<rect x="1749" y="641.21" width="63" height="26.08" fill="#e0654f"/>
<rect x="1749" y="667.17" width="63" height="26.08" fill="#ee8468"/>
<rect x="1749" y="693.12" width="63" height="26.08" fill="#f5a081"/>
<rect x="1749" y="719.08" width="63" height="26.08" fill="#f7b89c"/>
<rect x="1749" y="745.04" width="63" height="26.08" fill="#f2cbb7"/>
<rect x="1749" y="770.99" width="63" height="26.08" fill="#e5d8d1"/>
<rect x="1749" y="796.95" width="63" height="26.08" fill="#d4dbe6"/>
<rect x="1749" y="822.91" width="63" height="26.08" fill="#c0d4f5"/>
<rect x="1749" y="848.86" width="63" height="26.08" fill="#aac7fd"/>
<rect x="1749" y="874.82" width="63" height="26.08" fill="#93b5fe"/>
<rect x="1749" y="900.77" width="63" height="26.08" fill="#7b9ff9"/>
<rect x="1749" y="926.73" width="63" height="26.08" fill="#6485ec"/>
<rect x="1749" y="952.69" width="63" height="26.08" fill="#4f69d9"/>
<rect x="1749" y="978.64" width="63" height="26.08" fill="#3b4cc0"/>
</g>
<path d="M1812 588.5V1005.4" stroke="#000" stroke-width="2" fill="none" stroke-opacity="0.62"/>
<text transform="translate(1841.5 1012.5) scale(0.985 1)" font-size="26.0" text-anchor="start" font-family="'DejaVu Sans','Liberation Sans',sans-serif" fill="#000">0</text>
<text transform="translate(1841.5 971.0) scale(0.985 1)" font-size="26.0" text-anchor="start" font-family="'DejaVu Sans','Liberation Sans',sans-serif" fill="#000">0.1</text>
<text transform="translate(1841.5 929.4) scale(0.985 1)" font-size="26.0" text-anchor="start" font-family="'DejaVu Sans','Liberation Sans',sans-serif" fill="#000">0.2</text>
<text transform="translate(1841.5 887.9) scale(0.985 1)" font-size="26.0" text-anchor="start" font-family="'DejaVu Sans','Liberation Sans',sans-serif" fill="#000">0.3</text>
<text transform="translate(1841.5 846.4) scale(0.985 1)" font-size="26.0" text-anchor="start" font-family="'DejaVu Sans','Liberation Sans',sans-serif" fill="#000">0.4</text>
<text transform="translate(1841.5 804.9) scale(0.985 1)" font-size="26.0" text-anchor="start" font-family="'DejaVu Sans','Liberation Sans',sans-serif" fill="#000">0.5</text>
<text transform="translate(1841.5 763.3) scale(0.985 1)" font-size="26.0" text-anchor="start" font-family="'DejaVu Sans','Liberation Sans',sans-serif" fill="#000">0.6</text>
<text transform="translate(1841.5 721.8) scale(0.985 1)" font-size="26.0" text-anchor="start" font-family="'DejaVu Sans','Liberation Sans',sans-serif" fill="#000">0.7</text>
<text transform="translate(1841.5 680.3) scale(0.985 1)" font-size="26.0" text-anchor="start" font-family="'DejaVu Sans','Liberation Sans',sans-serif" fill="#000">0.8</text>
<text transform="translate(1841.5 638.7) scale(0.985 1)" font-size="26.0" text-anchor="start" font-family="'DejaVu Sans','Liberation Sans',sans-serif" fill="#000">0.9</text>
<text transform="translate(1841.5 597.2) scale(0.985 1)" font-size="26.0" text-anchor="start" font-family="'DejaVu Sans','Liberation Sans',sans-serif" fill="#000">1.0</text>
<path d="M1812 1004.6H1834.3M1812 963.1H1834.3M1812 921.5H1834.3M1812 880H1834.3M1812 838.5H1834.3M1812 797H1834.3M1812 755.4H1834.3M1812 713.9H1834.3M1812 672.4H1834.3M1812 630.8H1834.3M1812 589.3H1834.3" stroke="#1a1a1a" stroke-width="2" fill="none"/>
<text transform="translate(1919.0 797.9) rotate(90) scale(1 1.04)" font-size="34.1" text-anchor="middle" font-family="'DejaVu Sans','Liberation Sans',sans-serif" fill="#000">normalized field strength</text>
</g>
</svg>
</body></html>
